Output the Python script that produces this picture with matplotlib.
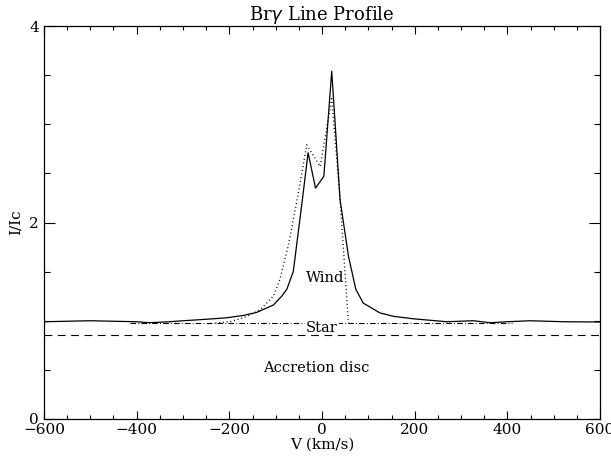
import numpy as np
import matplotlib
matplotlib.use("Agg")
import matplotlib.pyplot as plt
from matplotlib.ticker import MultipleLocator

## Br gamma line profile: observed (solid), model (dotted), star + disc levels
v_obs = [-600, -550, -500, -450, -400, -372, -330, -300, -250, -206, -170, -141,
         -105, -87, -76, -62, -44, -30, -14, 4, 21, 39, 57, 73, 89, 125, 154,
         197, 269, 327, 363, 400, 449, 521, 600]
i_obs = [0.99, 0.995, 1.0, 0.995, 0.99, 0.98, 0.99, 1.0, 1.015, 1.03, 1.054, 1.085,
         1.16, 1.25, 1.32, 1.50, 2.17, 2.71, 2.35, 2.47, 3.54, 2.23, 1.66, 1.32, 1.18, 1.08, 1.045,
         1.02, 0.99, 1.0, 0.98, 0.99, 1.0, 0.99, 0.987]

v_mod = [-230, -199, -170, -134, -105, -91, -73, -51, -33, -4, 21, 38, 57]
i_mod = [0.977, 0.99, 1.03, 1.11, 1.25, 1.42, 1.76, 2.30, 2.79, 2.57, 3.26, 2.3, 0.98]

v_star = [-415, 410]
i_star = [0.977, 0.977]

v_disc = [-600, 600]
i_disc = [0.85, 0.85]

labels = ["Wind", "Star", "Accretion disc"]
label_v = [7, 0, -13]
label_i = [1.44, 0.93, 0.52]

plt.rcParams['font.family'] = ['DejaVu Serif']
fig = plt.figure(figsize=(6.11, 4.62), dpi=100)
ax = fig.add_axes([44/611, 1-419/462, 556/611, 393/462])

ax.plot(v_obs, i_obs, color='k', lw=0.9)
l_mod, = ax.plot(v_mod, i_mod, color='k', lw=1.0)
l_mod.set_dashes((0.7, 2.0))
l_star, = ax.plot(v_star, i_star, color='k', lw=0.8)
l_star.set_dashes((5, 2, 0.8, 2))
l_disc, = ax.plot(v_disc, i_disc, color='k', lw=0.8)
l_disc.set_dashes((7, 5))

for t, x, y in zip(labels, label_v, label_i):
    bg = dict(facecolor='white', edgecolor='none', pad=0.5) if t == "Star" else None
    ax.text(x, y, t, ha='center', va='center', fontsize=10.5, bbox=bg)

ax.set_xlim(-600, 600)
ax.set_ylim(0, 4)
ax.xaxis.set_major_locator(MultipleLocator(200))
ax.xaxis.set_minor_locator(MultipleLocator(50))
ax.yaxis.set_major_locator(MultipleLocator(2))
ax.yaxis.set_minor_locator(MultipleLocator(0.5))
ax.tick_params(which='both', direction='in', top=True, right=True, labelsize=11, width=0.8)
ax.tick_params(axis='x', which='major', length=6)
ax.tick_params(axis='x', which='minor', length=3)
ax.tick_params(axis='y', which='major', length=8)
ax.tick_params(axis='y', which='minor', length=4.5)
ax.tick_params(axis='x', pad=3)
for s in ax.spines.values():
    s.set_linewidth(0.9)

ax.set_title("Br$\\gamma$ Line Profile", fontsize=13, pad=2)
ax.set_xlabel("V (km/s)", fontsize=11, labelpad=0)
ax.set_ylabel("I/Ic", fontsize=11, labelpad=5)

plt.savefig("out.png", dpi=100)
